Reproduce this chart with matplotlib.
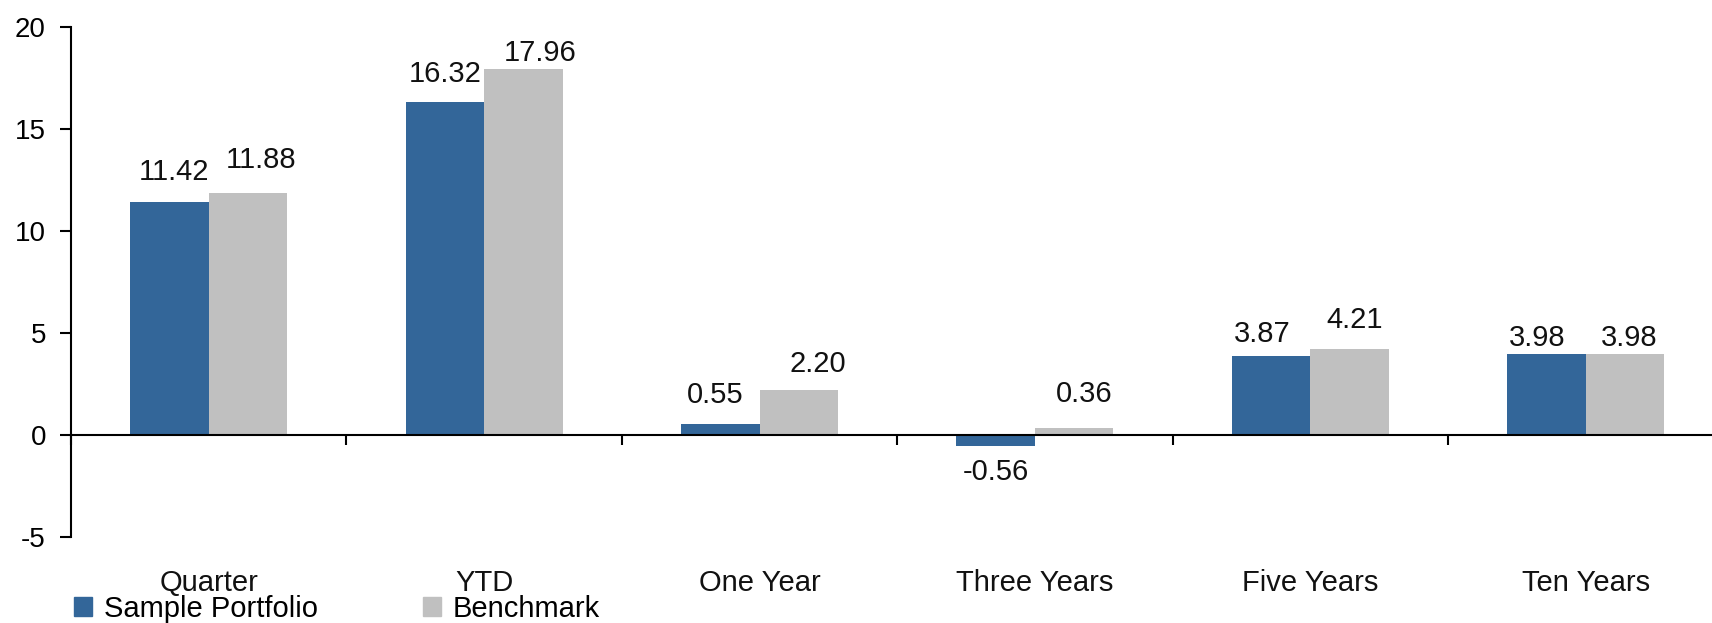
import matplotlib.pyplot as plt
from matplotlib.patches import Patch
from matplotlib.transforms import blended_transform_factory
import numpy as np

plt.rcParams['font.family'] = ['Liberation Sans', 'DejaVu Sans']

periods = ['Quarter', 'YTD', 'One Year', 'Three Years', 'Five Years', 'Ten Years']
portfolio = [11.42, 16.32, 0.55, -0.56, 3.87, 3.98]
benchmark = [11.88, 17.96, 2.20, 0.36, 4.21, 3.98]

# label nudges in pixels (dx, dy from the bar end to the text baseline)
port_nudge = [(5, 22), (0, 20), (-5, 21), (0, -34), (-9, 14), (-9, 8)]
bench_nudge = [(13, 25), (17, 8), (19, 18), (10, 26), (5, 21), (4, 8)]

blue = '#336699'
grey = '#c0c0c0'
fs = 21

fig = plt.figure(figsize=(17.12, 6.23), dpi=100)
ax = fig.add_axes([71 / 1712, 86 / 623, 1652.5 / 1712, 510 / 623])

x = np.arange(len(periods)) + 0.5
w = 0.285
ax.bar(x - w / 2, portfolio, w, color=blue)
ax.bar(x + w / 2, benchmark, w, color=grey)

for xs, vals, nudges in [(x - w / 2, portfolio, port_nudge),
                         (x + w / 2, benchmark, bench_nudge)]:
    for xi, v, (dx, dy) in zip(xs, vals, nudges):
        ax.annotate(f'{v:.2f}', (xi, v), xytext=(dx, dy),
                    textcoords='offset pixels', ha='center', va='baseline',
                    fontsize=fs, color='#111111')

ax.set_xlim(0, len(periods))
ax.set_ylim(-5, 20)
ax.set_yticks([-5, 0, 5, 10, 15, 20])
ax.set_yticklabels(['-5', '0', '5', '10', '15', '20'])

for s in ['top', 'right']:
    ax.spines[s].set_visible(False)
ax.spines['bottom'].set_position(('data', 0))
ax.spines['bottom'].set_linewidth(1.5)
ax.spines['left'].set_linewidth(1.5)

ax.set_xticks(np.arange(len(periods) + 1))
ax.set_xticklabels([])
ax.tick_params(axis='x', direction='out', length=7.5, width=1.5)
ax.tick_params(axis='y', direction='out', length=8, width=1.5,
               pad=10, labelsize=20)

trans = blended_transform_factory(ax.transData, ax.transAxes)
for xi, name in zip(x, periods):
    ax.text(xi, -0.09, name, transform=trans, ha='center', va='center',
            fontsize=fs, color='#111111')

handles = [Patch(color=blue), Patch(color=grey)]
fig.legend(handles, ['Sample Portfolio', 'Benchmark'], ncol=2,
           loc='center left', bbox_to_anchor=(74 / 1712, 14 / 623),
           frameon=False, fontsize=fs, borderpad=0, borderaxespad=0,
           handlelength=0.62, handleheight=0.62, handletextpad=0.4,
           columnspacing=3.6)

fig.savefig('out.png', dpi=100)
